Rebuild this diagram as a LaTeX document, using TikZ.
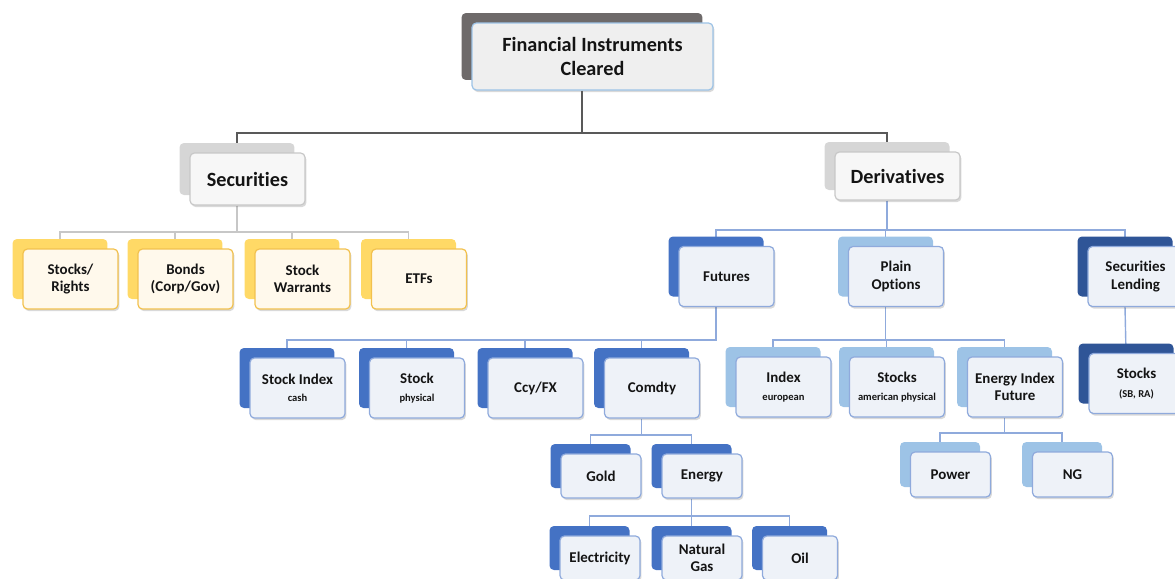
\documentclass[tikz,border=0pt]{standalone}
\usepackage{fontspec}
\setmainfont{Carlito}[Ligatures=NoCommon]
\usetikzlibrary{shadows,backgrounds}

\definecolor{topback}{HTML}{6E6A6A}
\definecolor{topfront}{HTML}{EFEFEF}
\definecolor{topedge}{HTML}{9DC3E6}
\definecolor{grpback}{HTML}{D6D6D6}
\definecolor{grpfront}{HTML}{F7F7F7}
\definecolor{grpedge}{HTML}{C8C8C8}
\definecolor{yelback}{HTML}{FFD966}
\definecolor{yelfront}{HTML}{FFF9EC}
\definecolor{yeledge}{HTML}{F2C14E}
\definecolor{bluemid}{HTML}{4472C4}
\definecolor{bluelight}{HTML}{9DC3E6}
\definecolor{bluedark}{HTML}{2F5597}
\definecolor{bluefront}{HTML}{EEF2F8}
\definecolor{blueedge}{HTML}{8FAADC}

\newcommand{\subtxt}[1]{{\fontsize{6}{7.5}\selectfont #1}}

\begin{document}
\begin{tikzpicture}[
    x=0.02cm, y=-0.02cm,
    card/.style={rectangle, rounded corners=2.5pt, align=center, inner sep=1pt,
      text=black!92, line width=0.7pt, minimum width=1.9cm, minimum height=1.2cm,
      font=\bfseries\fontsize{8.5}{10}\selectfont},
    backcard/.style={copy shadow={fill=#1, draw=none, shadow xshift=-0.21cm, shadow yshift=0.2cm},
      drop shadow={fill=black!60, opacity=0.25, shadow xshift=0.8pt, shadow yshift=-1.2pt}},
    topcard/.style={card, backcard=topback, fill=topfront, draw=topedge,
      font=\bfseries\fontsize{11.5}{13.5}\selectfont},
    grpcard/.style={card, backcard=grpback, fill=grpfront, draw=grpedge,
      font=\bfseries\fontsize{11.5}{13.5}\selectfont},
    yelcard/.style={card, backcard=yelback, fill=yelfront, draw=yeledge},
    futcard/.style={card, backcard=bluemid, fill=bluefront, draw=blueedge},
    optcard/.style={card, backcard=bluelight, fill=bluefront, draw=blueedge},
    lendcard/.style={card, backcard=bluedark, fill=bluefront, draw=blueedge},
    lowcard/.style={minimum width=1.6cm, minimum height=0.88cm},
    darkline/.style={draw=black!65, line width=0.8pt},
    grayline/.style={draw=black!22, line width=0.8pt},
    blueline/.style={draw=blueedge, line width=0.8pt}
  ]
  \useasboundingbox (0,0) rectangle (1175,578);
  \clip (0,0) rectangle (1175,578);

  % top and first level
  \node[topcard, minimum width=4.82cm, minimum height=1.34cm] (fic) at (592.5,56.5) {Financial Instruments\\Cleared};
  \node[grpcard, minimum width=2.3cm, minimum height=1.04cm] (sec) at (247.5,179) {Securities};
  \node[grpcard, minimum width=2.5cm, minimum height=0.96cm] (der) at (897.5,176) {Derivatives};

  % securities
  \node[yelcard] (stkr) at (70.5,279) {Stocks/\\Rights};
  \node[yelcard] (bond) at (185.5,279) {Bonds\\(Corp/Gov)};
  \node[yelcard] (warr) at (302.5,279) {Stock\\Warrants};
  \node[yelcard] (etf) at (419,279) {ETFs};

  % derivatives
  \node[futcard] (fut) at (726.5,276.5) {Futures};
  \node[optcard] (opt) at (896,276.5) {Plain\\Options};
  \node[lendcard] (lend) at (1135.5,276.5) {Securities\\Lending};

  \node[futcard] (sidx) at (297.5,388) {Stock Index\\\subtxt{cash}};
  \node[futcard] (stk) at (417,388) {Stock\\\subtxt{physical}};
  \node[futcard] (ccy) at (535.5,388) {Ccy/FX};
  \node[futcard] (cmd) at (652,388) {Comdty};

  \node[optcard] (idx) at (783.5,387) {Index\\\subtxt{european}};
  \node[optcard] (stam) at (897,387) {Stocks\\\subtxt{american physical}};
  \node[optcard] (eif) at (1015,387) {Energy Index\\Future};

  \node[lendcard] (sbra) at (1136.5,383.5) {Stocks\\[1pt]\subtxt{(SB, RA)}};

  \node[futcard, lowcard] (gold) at (601,476) {Gold};
  \node[futcard, lowcard] (enr) at (702,476) {Energy};
  \node[futcard, lowcard] (elec) at (600,558) {Electricity};
  \node[futcard, lowcard] (ngas) at (702,558) {Natural\\Gas};
  \node[futcard, lowcard, minimum width=1.5cm] (oil) at (800,558) {Oil};

  \node[optcard, lowcard, minimum height=0.9cm] (pow) at (950.5,474.5) {Power};
  \node[optcard, lowcard, minimum height=0.9cm] (ng) at (1072.5,474.5) {NG};

  % buses
  \coordinate (topbus) at (0,133);
  \coordinate (secbus) at (0,232);
  \coordinate (derbus) at (0,230);
  \coordinate (futbus) at (0,340);
  \coordinate (optbus) at (0,340);
  \coordinate (cmdbus) at (0,435);
  \coordinate (enrbus) at (0,516);
  \coordinate (eifbus) at (0,433);

  \begin{scope}[on background layer]
    \foreach \c in {sec,der}
      \draw[darkline] ([xshift=-0.21cm]fic.south) -- ([xshift=-0.21cm]fic.south |- topbus) -| ([xshift=-0.21cm]\c.north);
    \foreach \c in {stkr,bond,warr,etf}
      \draw[grayline] ([xshift=-0.21cm]sec.south) -- ([xshift=-0.21cm]sec.south |- secbus) -| ([xshift=-0.21cm]\c.north);
    \foreach \c in {fut,opt,lend}
      \draw[blueline] ([xshift=-0.21cm]der.south) -- ([xshift=-0.21cm]der.south |- derbus) -| ([xshift=-0.21cm]\c.north);
    \foreach \c in {sidx,stk,ccy,cmd}
      \draw[blueline] ([xshift=-0.21cm]fut.south) -- ([xshift=-0.21cm]fut.south |- futbus) -| ([xshift=-0.21cm]\c.north);
    \foreach \c in {idx,stam,eif}
      \draw[blueline] ([xshift=-0.21cm]opt.south) -- ([xshift=-0.21cm]opt.south |- optbus) -| ([xshift=-0.21cm]\c.north);
    \draw[blueline] ([xshift=-0.21cm]lend.south) -- ([xshift=-0.21cm]sbra.north);
    \foreach \c in {gold,enr}
      \draw[blueline] ([xshift=-0.21cm]cmd.south) -- ([xshift=-0.21cm]cmd.south |- cmdbus) -| ([xshift=-0.21cm]\c.north);
    \foreach \c in {elec,ngas,oil}
      \draw[blueline] ([xshift=-0.21cm]enr.south) -- ([xshift=-0.21cm]enr.south |- enrbus) -| ([xshift=-0.21cm]\c.north);
    \foreach \c in {pow,ng}
      \draw[blueline] ([xshift=-0.21cm]eif.south) -- ([xshift=-0.21cm]eif.south |- eifbus) -| ([xshift=-0.21cm]\c.north);
  \end{scope}
\end{tikzpicture}
\end{document}
